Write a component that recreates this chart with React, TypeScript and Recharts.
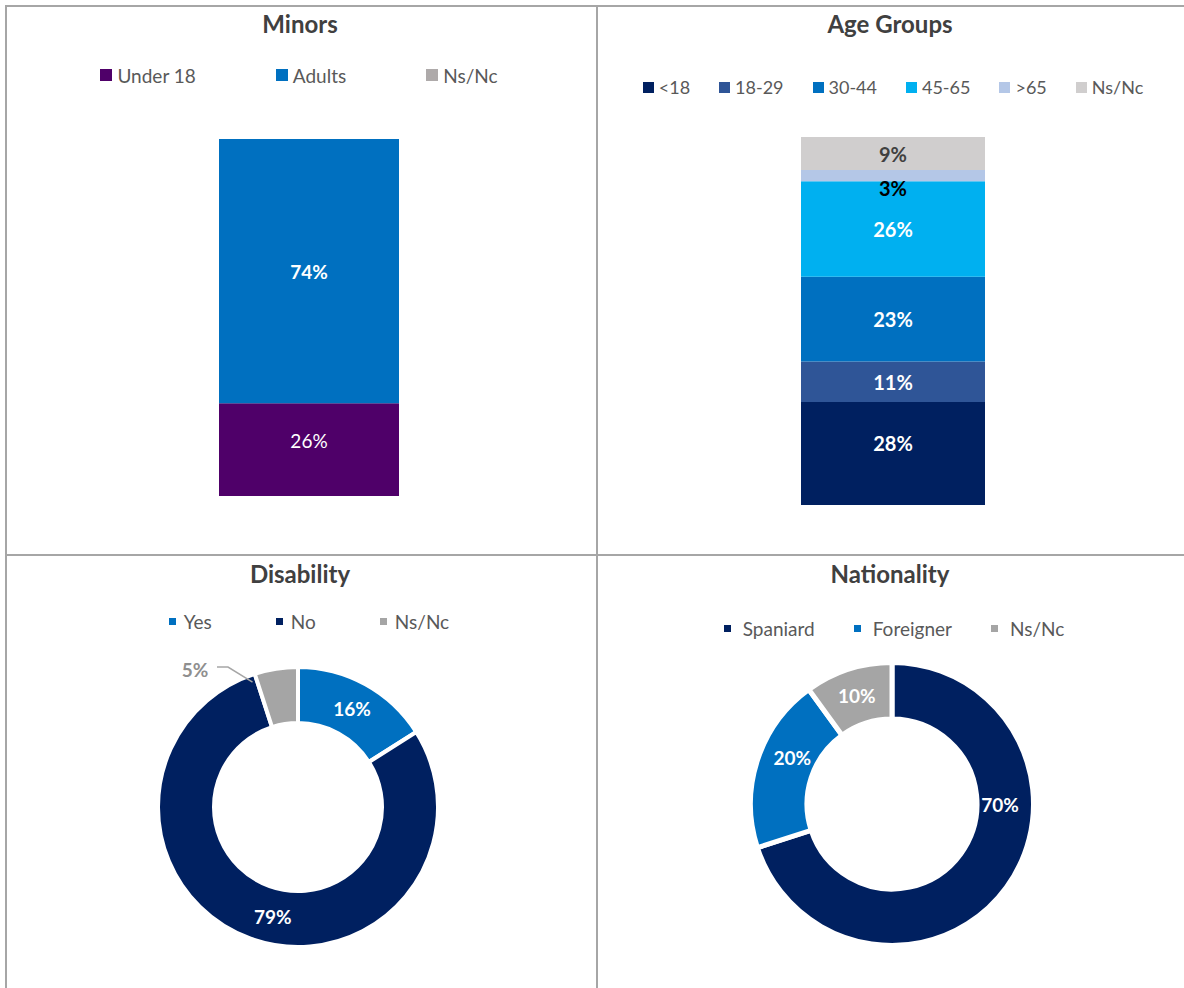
import { BarChart, Bar, XAxis, YAxis, LabelList, PieChart, Pie, Cell } from "recharts";

// Minors (stacked 100% column)
const minorsCategories = ["Under 18", "Adults", "Ns/Nc"];
const minorsValues = [26, 74, 0];
const minorsColors = ["#4f0069", "#0070c0", "#aeaaaa"];

// Age groups (stacked 100% column)
const ageCategories = ["<18", "18-29", "30-44", "45-65", ">65", "Ns/Nc"];
const ageValues = [28, 11, 23, 26, 3, 9];
const ageColors = ["#002060", "#2f5597", "#0070c0", "#00b0f0", "#b4c7e7", "#d0cece"];

// Disability (doughnut)
const disabilityCategories = ["Yes", "No", "Ns/Nc"];
const disabilityValues = [16, 79, 5];
const disabilityColors = ["#0070c0", "#002060", "#a5a5a5"];

// Nationality (doughnut)
const nationalityCategories = ["Spaniard", "Foreigner", "Ns/Nc"];
const nationalityValues = [70, 20, 10];
const nationalityColors = ["#002060", "#0070c0", "#a5a5a5"];

const FONT = "Lato, 'Open Sans', sans-serif";
const GRID = "#a6a6a6";
const RAD = Math.PI / 180;

const toRow = (name: string, values: number[]) => {
  const row: Record<string, any> = { name };
  values.forEach((v, i) => (row[`s${i}`] = v));
  return row;
};
const toSlices = (cats: string[], values: number[]) =>
  cats.map((name, i) => ({ name, value: values[i] }));

const polar = (cx: number, cy: number, r: number, angle: number) => [
  cx + r * Math.cos(-angle * RAD),
  cy + r * Math.sin(-angle * RAD),
];

function Title({ text, cx, cy }: { text: string; cx: number; cy: number }) {
  return (
    <div
      style={{
        position: "absolute", left: cx - 200, width: 400, top: cy - 16, height: 32,
        lineHeight: "32px", textAlign: "center", fontFamily: FONT, fontWeight: 700,
        fontSize: 24, color: "#404040",
      }}
    >
      {text}
    </div>
  );
}

function LegendRow(props: {
  items: string[]; colors: string[]; cx: number; cy: number;
  size: number; gap: number; textGap: number; fontSize: number;
}) {
  const { items, colors, cx, cy, size, gap, textGap, fontSize } = props;
  return (
    <div
      style={{
        position: "absolute", left: cx - 300, width: 600, top: cy - 15, height: 30,
        display: "flex", justifyContent: "center", alignItems: "center", gap,
        fontFamily: FONT, fontSize, color: "#595959",
      }}
    >
      {items.map((it, i) => (
        <div key={it} style={{ display: "flex", alignItems: "center" }}>
          <span style={{ width: size, height: size, background: colors[i], marginRight: textGap, display: "inline-block" }} />
          <span>{it}</span>
        </div>
      ))}
    </div>
  );
}

function barLabel(value: number, color: string, fontSize: number, bold: boolean, dy: number) {
  return (props: any) => {
    const vb = props.viewBox ?? props;
    const x = Number(props.x ?? vb.x);
    const y = Number(props.y ?? vb.y);
    const w = Number(props.width ?? vb.width);
    const h = Number(props.height ?? vb.height);
    if (!value) return null;
    return (
      <text
        x={x + w / 2} y={y + h / 2 + dy} textAnchor="middle" dominantBaseline="central"
        fill={color} fontFamily={FONT} fontSize={fontSize} fontWeight={bold ? 700 : 400}
      >
        {`${value}%`}
      </text>
    );
  };
}

function MinorsChart() {
  const data = [toRow("Minors", minorsValues)];
  const labelColors = ["#ffffff", "#ffffff", "#404040"];
  return (
    <div style={{ position: "absolute", left: 219, top: 139 }}>
      <BarChart width={180} height={357} data={data} margin={{ top: 0, right: 0, bottom: 0, left: 0 }} barCategoryGap={0}>
        <XAxis dataKey="name" hide />
        <YAxis hide domain={[0, 100]} />
        {minorsCategories.map((c, i) => (
          <Bar key={c} dataKey={`s${i}`} name={c} stackId="a" fill={minorsColors[i]} isAnimationActive={false}>
            <LabelList dataKey={`s${i}`} content={barLabel(minorsValues[i], labelColors[i], 19, i === 1, i === 0 ? -9 : 0)} />
          </Bar>
        ))}
      </BarChart>
    </div>
  );
}

function AgeChart() {
  const data = [toRow("Age Groups", ageValues)];
  const labelColors = ["#ffffff", "#ffffff", "#ffffff", "#ffffff", "#000000", "#404040"];
  return (
    <div style={{ position: "absolute", left: 801, top: 137 }}>
      <BarChart width={184} height={368} data={data} margin={{ top: 0, right: 0, bottom: 0, left: 0 }} barCategoryGap={0}>
        <XAxis dataKey="name" hide />
        <YAxis hide domain={[0, 100]} />
        {ageCategories.map((c, i) => (
          <Bar key={c} dataKey={`s${i}`} name={c} stackId="a" fill={ageColors[i]} isAnimationActive={false}>
            <LabelList
              dataKey={`s${i}`}
              content={barLabel(ageValues[i], labelColors[i], 20, true, i === 0 ? -10 : i === 4 ? 12 : 0)}
            />
          </Bar>
        ))}
      </BarChart>
    </div>
  );
}

function disabilityLabel(p: any) {
  const { cx, cy, midAngle, innerRadius, outerRadius, index } = p;
  const v = disabilityValues[index];
  if (index === 2) {
    const [sx, sy] = polar(cx, cy, outerRadius - 7, midAngle + 11);
    return (
      <g>
        <polyline
          points={`${sx},${sy} ${cx - 70},${cy - 140} ${cx - 81},${cy - 140}`}
          fill="none" stroke={GRID} strokeWidth={1.5}
        />
        <text x={cx - 103} y={cy - 138} textAnchor="middle" dominantBaseline="central"
          fill="#8f8f8f" fontFamily={FONT} fontSize={19} fontWeight={700}>
          {`${v}%`}
        </text>
      </g>
    );
  }
  // Excel nudged the big slice's label toward the bottom
  const angle = index === 1 ? -103 : midAngle;
  const [x, y] = polar(cx, cy, (innerRadius + outerRadius) / 2, angle);
  return (
    <text x={x} y={y} textAnchor="middle" dominantBaseline="central"
      fill="#ffffff" fontFamily={FONT} fontSize={19} fontWeight={700}>
      {`${v}%`}
    </text>
  );
}

function nationalityLabel(p: any) {
  const { cx, cy, midAngle, index } = p;
  const v = nationalityValues[index];
  const angle = index === 0 ? 0 : index === 1 ? 155 : midAngle;
  const r = index === 0 ? 108 : index === 1 ? 110 : 114;
  const [x, y] = polar(cx, cy, r, angle);
  return (
    <text x={x} y={y} textAnchor="middle" dominantBaseline="central"
      fill="#ffffff" fontFamily={FONT} fontSize={19} fontWeight={700}>
      {`${v}%`}
    </text>
  );
}

function DisabilityChart() {
  return (
    <div style={{ position: "absolute", left: 148, top: 657 }}>
      <PieChart width={302} height={300} margin={{ top: 0, right: 0, bottom: 0, left: 0 }}>
        <Pie
          data={toSlices(disabilityCategories, disabilityValues)} dataKey="value" nameKey="name"
          cx={150} cy={150} innerRadius={84} outerRadius={140} startAngle={90} endAngle={-270}
          label={disabilityLabel} labelLine={false} isAnimationActive={false}
        >
          {disabilityValues.map((_, i) => (
            <Cell key={i} fill={disabilityColors[i]} stroke="#ffffff" strokeWidth={4} />
          ))}
        </Pie>
      </PieChart>
    </div>
  );
}

function NationalityChart() {
  return (
    <div style={{ position: "absolute", left: 742, top: 654 }}>
      <PieChart width={300} height={300} margin={{ top: 0, right: 0, bottom: 0, left: 0 }}>
        <Pie
          data={toSlices(nationalityCategories, nationalityValues)} dataKey="value" nameKey="name"
          cx={150} cy={150} innerRadius={85} outerRadius={141.5} startAngle={90} endAngle={-270}
          label={nationalityLabel} labelLine={false} isAnimationActive={false}
        >
          {nationalityValues.map((_, i) => (
            <Cell key={i} fill={nationalityColors[i]} stroke="#ffffff" strokeWidth={5} />
          ))}
        </Pie>
      </PieChart>
    </div>
  );
}

const line = (left: number, top: number, width: number, height: number) => (
  <div style={{ position: "absolute", left, top, width, height, background: GRID }} />
);

export default function App() {
  return (
    <div style={{ position: "absolute", left: 0, top: 0, width: 1184, height: 988, background: "#fff", overflow: "hidden" }}>
      {line(5, 5, 1179, 2)}
      {line(5, 5, 2, 983)}
      {line(596, 5, 2, 983)}
      {line(5, 554, 1179, 2)}

      <Title text="Minors" cx={300} cy={24} />
      <LegendRow items={minorsCategories} colors={minorsColors} cx={299} cy={75} size={12} gap={80} textGap={5} fontSize={19} />
      <MinorsChart />

      <Title text="Age Groups" cx={890} cy={24} />
      <LegendRow items={ageCategories} colors={ageColors} cx={893} cy={87} size={11} gap={29} textGap={5} fontSize={18} />
      <AgeChart />

      <Title text="Disability" cx={300} cy={574} />
      <LegendRow items={disabilityCategories} colors={disabilityColors} cx={309} cy={621} size={7} gap={64} textGap={8} fontSize={19} />
      <DisabilityChart />

      <Title text="Nationality" cx={890} cy={574} />
      <LegendRow items={nationalityCategories} colors={nationalityColors} cx={894} cy={628} size={7} gap={39} textGap={12} fontSize={19} />
      <NationalityChart />
    </div>
  );
}
